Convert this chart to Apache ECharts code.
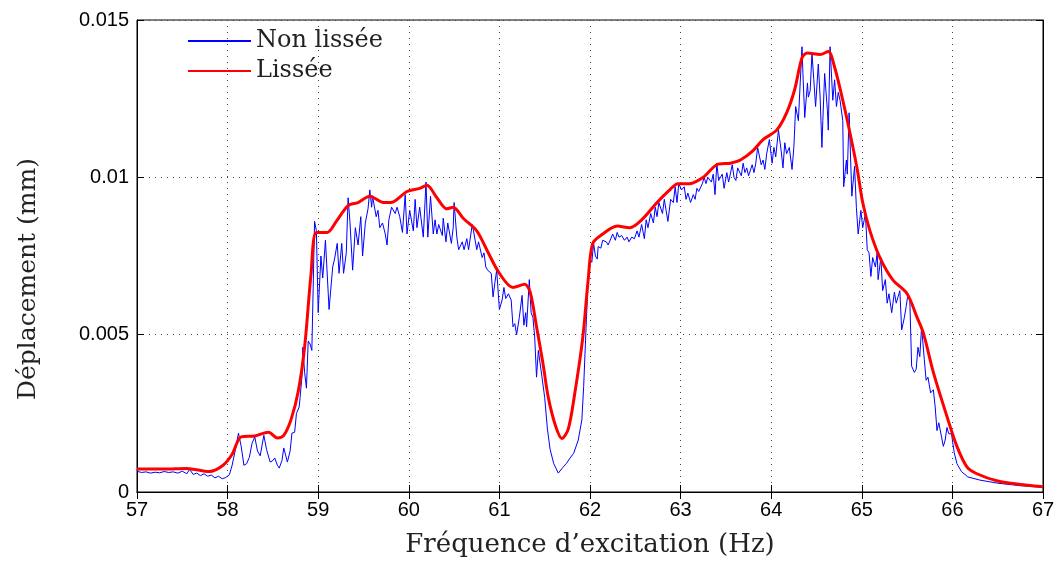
<!DOCTYPE html>
<html lang="fr">
<head>
    <meta charset="UTF-8">
    <title>Déplacement</title>
    <script type="text/javascript" src="https://cdn.jsdelivr.net/npm/echarts@6/dist/echarts.min.js"></script>
    <style>
        html, body { margin: 0; padding: 0; background: #fff; }
    </style>
</head>
<body>
<div id="chart" style="width: 1059px;height:565px;"></div>
<script>
    // déplacement en µm (axe affiché en mm)
    var freqRaw = [
        57.00, 57.05, 57.10, 57.15, 57.20, 57.25, 57.30, 57.35, 57.40, 57.45, 57.50, 57.55, 57.58, 57.62, 57.66, 57.70,
        57.74, 57.78, 57.82, 57.86, 57.90, 57.94, 57.98, 58.02, 58.05, 58.09, 58.12, 58.15, 58.18, 58.21, 58.24, 58.27,
        58.30, 58.33, 58.36, 58.40, 58.43, 58.47, 58.50, 58.52, 58.55, 58.57, 58.60, 58.62, 58.66, 58.69, 58.71, 58.74,
        58.76, 58.79, 58.80, 58.82, 58.83, 58.85, 58.87, 58.89, 58.91, 58.93, 58.96, 58.98, 59.00, 59.03, 59.05, 59.08,
        59.12, 59.16, 59.18, 59.21, 59.23, 59.26, 59.28, 59.31, 59.33, 59.35, 59.38, 59.41, 59.44, 59.47, 59.49, 59.52,
        59.55, 59.57, 59.59, 59.60, 59.64, 59.66, 59.68, 59.71, 59.74, 59.76, 59.78, 59.81, 59.85, 59.87, 59.90, 59.93,
        59.96, 59.98, 60.01, 60.05, 60.07, 60.09, 60.12, 60.16, 60.19, 60.21, 60.24, 60.27, 60.29, 60.31, 60.33, 60.37,
        60.38, 60.41, 60.43, 60.47, 60.49, 60.50, 60.53, 60.55, 60.59, 60.61, 60.64, 60.66, 60.70, 60.72, 60.75, 60.77,
        60.81, 60.83, 60.85, 60.87, 60.91, 60.93, 60.95, 60.97, 61.00, 61.03, 61.05, 61.07, 61.10, 61.13, 61.15, 61.17,
        61.19, 61.22, 61.25, 61.27, 61.29, 61.30, 61.33, 61.35, 61.37, 61.39, 61.41, 61.43, 61.47, 61.50, 61.53, 61.56,
        61.60, 61.65, 61.70, 61.74, 61.78, 61.82, 61.87, 61.91, 61.93, 61.96, 61.98, 62.00, 62.02, 62.04, 62.06, 62.08, 62.09,
        62.12, 62.14, 62.18, 62.20, 62.23, 62.25, 62.28, 62.30, 62.32, 62.35, 62.38, 62.41, 62.43, 62.46, 62.49, 62.52,
        62.54, 62.57, 62.60, 62.62, 62.64, 62.67, 62.70, 62.72, 62.74, 62.76, 62.80, 62.82, 62.84, 62.86, 62.89, 62.92,
        62.94, 62.96, 62.98, 63.01, 63.04, 63.06, 63.08, 63.11, 63.14, 63.16, 63.18, 63.20, 63.24, 63.26, 63.28, 63.30,
        63.34, 63.36, 63.38, 63.40, 63.42, 63.46, 63.48, 63.51, 63.53, 63.57, 63.59, 63.61, 63.63, 63.67, 63.69, 63.71,
        63.73, 63.75, 63.79, 63.81, 63.83, 63.85, 63.89, 63.91, 63.93, 63.95, 63.98, 64.01, 64.03, 64.05, 64.08, 64.11,
        64.13, 64.15, 64.17, 64.20, 64.23, 64.25, 64.27, 64.30, 64.32, 64.34, 64.35, 64.37, 64.40, 64.41, 64.43, 64.45,
        64.47, 64.49, 64.52, 64.54, 64.56, 64.57, 64.59, 64.62, 64.63, 64.65, 64.67, 64.68, 64.70, 64.72, 64.74, 64.76,
        64.79, 64.80, 64.83, 64.84, 64.86, 64.89, 64.92, 64.94, 64.96, 64.99, 65.01, 65.04, 65.06, 65.08, 65.10, 65.12,
        65.15, 65.17, 65.18, 65.21, 65.23, 65.26, 65.28, 65.30, 65.33, 65.36, 65.38, 65.40, 65.42, 65.44, 65.47, 65.49,
        65.51, 65.53, 65.55, 65.58, 65.60, 65.62, 65.64, 65.66, 65.69, 65.71, 65.73, 65.76, 65.79, 65.81, 65.83, 65.85,
        65.88, 65.90, 65.92, 65.94, 65.96, 65.99, 66.02, 66.05, 66.10, 66.17, 66.30, 66.50, 66.75, 67.00
    ];
    var dispRaw = [
        0.66, 0.62, 0.64, 0.60, 0.63, 0.61, 0.65, 0.62, 0.64, 0.60, 0.66, 0.58, 0.72, 0.56, 0.60, 0.52,
        0.58, 0.50, 0.54, 0.45, 0.50, 0.42, 0.46, 0.55, 0.85, 1.40, 1.87, 1.45, 0.85, 0.90, 1.10, 1.55,
        1.75, 1.30, 1.15, 1.80, 1.35, 0.95, 1.00, 1.08, 0.85, 0.76, 1.00, 1.40, 0.95, 1.30, 1.87, 1.90,
        2.50, 2.70, 3.00, 3.65, 4.60, 3.80, 3.30, 4.80, 4.70, 4.50, 8.60, 8.30, 5.70, 7.50, 6.80, 8.00,
        5.80, 7.15, 7.40, 7.90, 6.95, 7.90, 6.95, 7.60, 9.35, 8.60, 7.05, 8.40, 7.85, 8.75, 7.50, 8.55,
        9.00, 9.60, 9.05, 9.40, 8.75, 8.95, 8.40, 8.55, 8.20, 7.85, 8.65, 9.05, 8.85, 9.05, 8.75, 8.25,
        9.45, 8.20, 8.95, 8.30, 9.30, 8.40, 9.05, 8.10, 9.85, 8.10, 9.40, 8.20, 8.65, 8.20, 8.50, 8.15,
        8.70, 7.95, 8.55, 7.90, 8.40, 9.20, 8.10, 7.70, 7.95, 7.70, 8.05, 7.70, 8.50, 8.20, 7.70, 7.95,
        7.45, 7.60, 7.15, 7.05, 6.95, 6.20, 6.65, 7.05, 5.80, 6.10, 6.50, 6.15, 6.30, 6.10, 5.25, 5.35,
        5.00, 5.55, 6.25, 5.30, 5.70, 5.25, 6.75, 5.70, 5.55, 4.90, 3.65, 4.50, 3.65, 3.00, 2.00, 1.35,
        0.90, 0.60, 0.78, 0.91, 1.08, 1.23, 1.65, 2.29, 3.35, 5.47, 6.75, 7.40, 7.30, 7.90, 7.50, 7.40, 7.80,
        7.75, 8.00, 7.95, 7.85, 8.05, 8.20, 8.00, 8.25, 8.10, 8.15, 8.00, 8.10, 7.95, 8.10, 8.05, 8.30,
        8.10, 8.50, 8.05, 8.65, 8.40, 8.85, 8.55, 9.05, 8.75, 9.20, 8.85, 9.30, 8.95, 8.60, 9.30, 9.20,
        9.70, 9.20, 9.80, 9.60, 9.70, 9.30, 9.50, 9.20, 9.45, 9.30, 9.65, 9.55, 9.80, 10.00, 9.80, 10.00,
        9.85, 10.10, 9.45, 10.45, 9.90, 10.10, 9.65, 10.15, 9.85, 10.40, 10.00, 9.90, 10.30, 10.05, 10.45, 10.15,
        10.30, 10.05, 10.40, 10.15, 10.45, 10.95, 10.40, 10.55, 10.25, 10.75, 11.20, 10.45, 10.95, 10.65, 11.50, 10.85,
        10.30, 11.10, 10.75, 10.95, 10.25, 10.95, 12.25, 11.80, 13.00, 14.15, 13.30, 11.90, 13.00, 12.55, 12.75, 13.95,
        13.10, 12.25, 13.60, 12.55, 10.95, 11.80, 13.30, 12.15, 11.50, 14.15, 13.00, 12.45, 13.10, 12.25, 12.70, 12.45,
        11.80, 9.70, 10.55, 10.10, 12.05, 9.40, 10.35, 9.05, 8.20, 8.95, 8.40, 8.85, 7.70, 7.60, 6.85, 7.45,
        7.15, 7.60, 6.75, 7.45, 6.40, 6.75, 6.00, 6.30, 5.70, 6.35, 6.00, 6.20, 6.40, 5.15, 5.55, 5.90,
        6.30, 6.10, 4.00, 3.80, 3.90, 4.60, 4.30, 5.25, 4.20, 3.55, 3.65, 3.15, 3.25, 2.70, 1.95, 2.20,
        1.75, 1.45, 1.65, 2.05, 1.85, 1.85, 1.25, 0.90, 0.65, 0.48, 0.38, 0.28, 0.20, 0.15
    ];

    var freqSmooth = [
        57.00, 57.30, 57.55, 57.80, 57.95, 58.05, 58.15, 58.30, 58.45, 58.55, 58.62, 58.70, 58.78, 58.85, 58.92, 58.98,
        59.10, 59.20, 59.33, 59.44, 59.57, 59.72, 59.80, 59.98, 60.12, 60.20, 60.31, 60.42, 60.49, 60.60, 60.75, 60.86,
        61.00, 61.15, 61.28, 61.34, 61.41, 61.48, 61.54, 61.62, 61.69, 61.76, 61.83, 61.92, 61.98, 62.03, 62.14, 62.30,
        62.44, 62.57, 62.74, 62.88, 62.97, 63.10, 63.25, 63.40, 63.55, 63.66, 63.80, 63.91, 64.06, 64.17, 64.26, 64.34,
        64.40, 64.54, 64.63, 64.70, 64.79, 64.87, 64.95, 65.01, 65.09, 65.20, 65.34, 65.50, 65.61, 65.68, 65.79, 65.94,
        66.05, 66.16, 66.27, 66.50, 66.75, 67.00
    ];
    var dispSmooth = [
        0.73, 0.73, 0.75, 0.65, 0.85, 1.20, 1.75, 1.78, 1.90, 1.72, 1.80, 2.30, 3.20, 4.60, 6.90, 8.25,
        8.25, 8.60, 9.10, 9.20, 9.40, 9.20, 9.20, 9.55, 9.65, 9.75, 9.35, 9.00, 9.05, 8.70, 8.30, 7.70,
        6.95, 6.50, 6.60, 6.35, 5.25, 4.10, 3.00, 2.10, 1.70, 2.00, 3.10, 4.90, 6.75, 7.90, 8.20, 8.45,
        8.40, 8.65, 9.20, 9.60, 9.80, 9.80, 10.00, 10.40, 10.45, 10.55, 10.85, 11.20, 11.50, 12.05, 12.80, 13.80,
        13.95, 13.90, 14.00, 13.50, 12.45, 11.40, 10.25, 9.20, 8.30, 7.45, 6.75, 6.30, 5.55, 5.05, 3.80, 2.40,
        1.45, 0.80, 0.58, 0.35, 0.24, 0.17
    ];

    var freqTicks = [57, 58, 59, 60, 61, 62, 63, 64, 65, 66, 67];

    var rawData = freqRaw.map(function (f, i) { return [f, dispRaw[i]]; });
    var smoothData = freqSmooth.map(function (f, i) { return [f, dispSmooth[i]]; });

    var tickFont = { fontFamily: 'Liberation Sans', fontSize: 20, color: '#000' };
    var serif = 'DejaVu Serif';

    var option = {
        animation: false,
        backgroundColor: '#fff',
        grid: {
            left: 137, right: 16, top: 20, bottom: 73,
            show: true, borderColor: '#000', borderWidth: 1
        },
        legend: {
            left: 187, top: 29, orient: 'vertical', padding: 0,
            itemWidth: 63, itemHeight: 14, itemGap: 6,
            itemStyle: { opacity: 0 },
            textStyle: { fontFamily: serif, fontSize: 24, color: '#222' },
            data: ['Non lissée', 'Lissée']
        },
        xAxis: [{
            type: 'value', min: freqTicks[0], max: freqTicks[freqTicks.length - 1], interval: 1,
            name: 'Fréquence d\u2019excitation (Hz)', nameLocation: 'middle', nameGap: 40,
            nameTextStyle: { fontFamily: serif, fontSize: 26, color: '#222' },
            axisLine: { show: true, lineStyle: { color: '#000', width: 1 } },
            axisTick: { show: true, inside: true, length: 7, lineStyle: { color: '#000' } },
            axisLabel: Object.assign({ margin: 8 }, tickFont),
            splitLine: { show: true, lineStyle: { color: '#444', type: [1, 5], width: 1 } }
        }, {
            type: 'value', position: 'top', min: 57, max: 67, interval: 1,
            axisLine: { show: true, lineStyle: { color: '#000' } },
            axisTick: { show: true, inside: true, length: 7, lineStyle: { color: '#000' } },
            axisLabel: { show: false }, splitLine: { show: false }
        }],
        yAxis: [{
            type: 'value', min: 0, max: 15, interval: 5,
            name: 'Déplacement (mm)', nameLocation: 'middle', nameGap: 96,
            nameTextStyle: { fontFamily: serif, fontSize: 25, color: '#222', padding: [0, 46, 0, 0] },
            axisLine: { show: true, lineStyle: { color: '#000', width: 1 } },
            axisTick: { show: true, inside: true, length: 7, lineStyle: { color: '#000' } },
            axisLabel: Object.assign({
                margin: 8,
                formatter: function (v) { return String(+(v / 1000).toFixed(3)); }
            }, tickFont),
            splitLine: { show: true, lineStyle: { color: '#444', type: [1, 5], width: 1 } }
        }, {
            type: 'value', position: 'right', min: 0, max: 15, interval: 5,
            axisLine: { show: true, lineStyle: { color: '#000' } },
            axisTick: { show: true, inside: true, length: 7, lineStyle: { color: '#000' } },
            axisLabel: { show: false }, splitLine: { show: false }
        }],
        series: [{
            name: 'Non lissée',
            type: 'line',
            data: rawData,
            showSymbol: false,
            symbol: 'none',
            color: '#0000ff',
            lineStyle: { color: '#0000ff', width: 1 }
        }, {
            name: 'Lissée',
            type: 'line',
            data: smoothData,
            smooth: 0.3,
            showSymbol: false,
            symbol: 'none',
            color: '#ff0000',
            lineStyle: { color: '#ff0000', width: 3 }
        }]
    };

    var myChart = echarts.init(document.getElementById('chart'));
    myChart.setOption(option);
</script>
</body>
</html>
